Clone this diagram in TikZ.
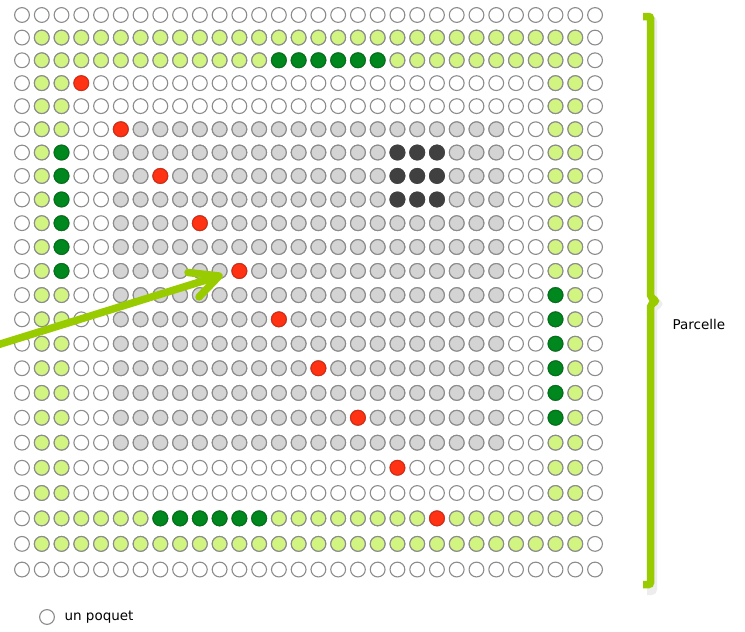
\documentclass[tikz,border=0pt]{standalone}
\usepackage{fontspec}
\setmainfont{DejaVu Sans}
\usepackage{tikz}
\usetikzlibrary{calc}
\definecolor{lightgr}{RGB}{210, 245, 130}
\definecolor{darkgr}{RGB}{0, 135, 30}
\definecolor{redpt}{RGB}{255, 50, 20}
\definecolor{midgray}{RGB}{212, 212, 212}
\definecolor{darkgray}{RGB}{64, 64, 64}
\definecolor{accent}{RGB}{153, 204, 0}

\tikzset{
  declare function={colx(\c)=22+(\c-1)*19.76; rowy(\r)=15+22.5*(\r-1)+0.07*(\r-1)^2;},
  poquet/.style={draw=black!45, fill=white, line width=1.1},
  lightcell/.style={poquet, fill=lightgr},
  darkcell/.style={poquet, draw=darkgr!85!black, fill=darkgr},
  graycell/.style={poquet, fill=midgray},
  blackcell/.style={poquet, draw=darkgray, fill=darkgray},
  redcell/.style={poquet, draw=redpt!85!black, fill=redpt},
  accentline/.style={accent, line width=7.5, line cap=round, line join=round},
  label/.style={anchor=west, font=\fontsize{13.5}{15}\selectfont}
}
\newcommand{\poquetat}[3]{\filldraw[#3] ({colx(#2)}, {rowy(#1)}) circle (7.4pt);}

\begin{document}
\begin{tikzpicture}[x=1pt, y=-1pt]
  \useasboundingbox[fill=white] (0, 0) rectangle (745, 632);

  % la parcelle
  \foreach \r in {1,...,24} \foreach \c in {1,...,30} \poquetat{\r}{\c}{poquet};
  \foreach \r in {2,3,22,23} \foreach \c in {2,...,29} \poquetat{\r}{\c}{lightcell};
  \foreach \r in {4,...,21} \foreach \c in {2,3,28,29} \poquetat{\r}{\c}{lightcell};
  \foreach \c in {14,...,19} \poquetat{3}{\c}{darkcell};
  \foreach \c in {8,...,13} \poquetat{22}{\c}{darkcell};
  \foreach \r in {7,...,12} \poquetat{\r}{3}{darkcell};
  \foreach \r in {13,...,18} \poquetat{\r}{28}{darkcell};
  \foreach \r in {6,...,19} \foreach \c in {6,...,25} \poquetat{\r}{\c}{graycell};
  \foreach \r in {7,8,9} \foreach \c in {20,21,22} \poquetat{\r}{\c}{blackcell};
  \foreach \k in {4,6,...,22} \poquetat{\k}{\k}{redcell};

  % fleche
  \coordinate (arrowstart) at (-6, 346);
  \coordinate (arrowtip) at (219, 276);
  \coordinate (armtop) at (188, 272.5);
  \coordinate (armbot) at (199, 297);
  \draw[accentline, line cap=butt] (arrowstart) -- (arrowtip);
  \draw[accentline] (armtop) -- (arrowtip) -- (armbot);

  % accolade
  \draw[black!7, line width=8, rounded corners=2] (647, 20) -- (653, 20) -- (653, 300)
    -- (659, 304) -- (653, 308) -- (653, 591) -- (647, 591);
  \draw[accent, line width=7.5, rounded corners=2] (643, 16.5) -- (650.5, 16.5) -- (650.5, 297)
    -- (656, 301) -- (650.5, 305) -- (650.5, 584.5) -- (643, 584.5);
  \node[label] (parcelle) at (669, 324) {Parcelle};

  % legende
  \filldraw[poquet] (47, 617) circle (7.4pt);
  \node[label] (legende) at (61, 617) {un poquet};
\end{tikzpicture}
\end{document}
